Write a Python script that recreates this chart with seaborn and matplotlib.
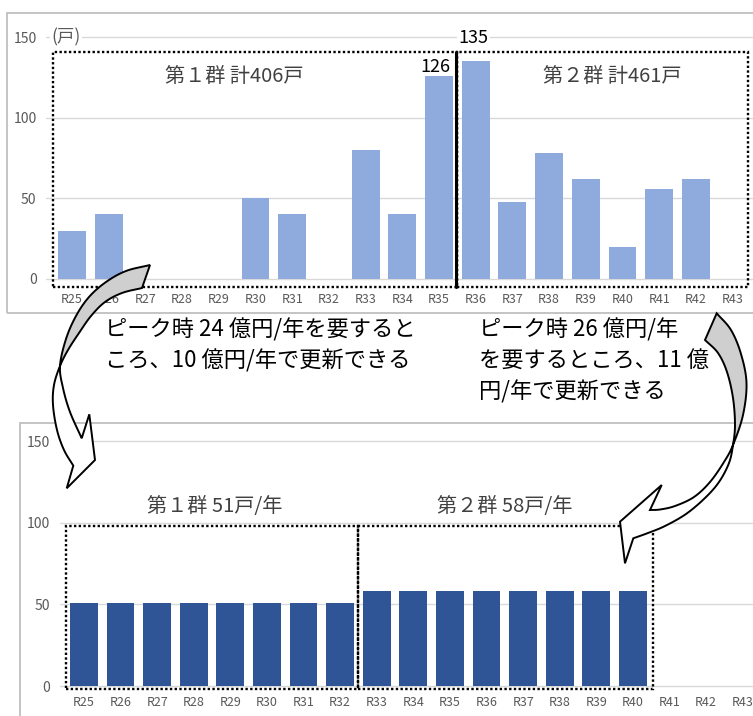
import matplotlib
matplotlib.use("Agg")
import matplotlib.pyplot as plt
from matplotlib.patches import Rectangle, Polygon
import numpy as np
import pandas as pd
import seaborn as sns

# ---------------- data ----------------
years = ["R25", "R26", "R27", "R28", "R29", "R30", "R31", "R32", "R33", "R34",
         "R35", "R36", "R37", "R38", "R39", "R40", "R41", "R42", "R43"]
# dwellings due for renewal each year (戸)
renewal_need = [30, 40, 0, 0, 0, 50, 40, 0, 80, 40,
                126, 135, 48, 78, 62, 20, 56, 62, 0]
group1_idx = (0, 10)    # R25-R35
group2_idx = (11, 18)   # R36-R43
# levelled renewal plan (戸/年)
levelled = [51, 51, 51, 51, 51, 51, 51, 51,
            58, 58, 58, 58, 58, 58, 58, 58, 0, 0, 0]
plan1_idx = (0, 7)      # R25-R32
plan2_idx = (8, 15)     # R33-R40
y_ticks = [0, 50, 100, 150]
note_left = ["ピーク時 24 億円/年を要すると", "ころ、10 億円/年で更新できる"]
note_right = ["ピーク時 26 億円/年", "を要するところ、11 億", "円/年で更新できる"]

LIGHT_BLUE = "#8FAADC"
DARK_BLUE = "#2F5597"
GRID = "#D9D9D9"
TICK = "#595959"
LABEL = "#404040"

sns.set_style("white")
plt.rcParams["font.family"] = ["Noto Sans CJK JP", "DejaVu Sans"]

W, H = 753, 716
fig = plt.figure(figsize=(W / 100, H / 100), dpi=100)


def fx(x):
    return x / W


def fy(y):
    return 1 - y / H


def add_axes_px(left, top, right, bottom):
    return fig.add_axes([fx(left), fy(bottom), fx(right) - fx(left), fy(top) - fy(bottom)])


def style_axes(ax, xlim, ylim, ypad):
    ax.set_xlim(*xlim)
    ax.set_ylim(*ylim)
    ax.set_yticks(y_ticks)
    ax.set_xlabel("")
    ax.set_ylabel("")
    ax.patch.set_alpha(0)
    for s in ax.spines.values():
        s.set_visible(False)
    ax.yaxis.grid(True, color=GRID, lw=1)
    ax.xaxis.grid(False)
    ax.set_axisbelow(True)
    ax.tick_params(axis="x", length=0, pad=1, labelsize=9, labelcolor=TICK)
    ax.tick_params(axis="y", length=0, pad=ypad, labelsize=10, labelcolor=TICK)


def dotted_box(ax, x0, x1, y0, y1):
    ax.add_patch(Rectangle((x0, y0), x1 - x0, y1 - y0, fill=False, ec="black",
                           lw=1.7, ls=(0, (1, 1)), clip_on=False, zorder=5))


# ---------------- outer frames ----------------
fig.add_artist(Rectangle((fx(7), fy(313)), fx(765) - fx(7), fy(13) - fy(313),
                         transform=fig.transFigure, fill=False, ec="#BFBFBF", lw=1.3, zorder=-1))
fig.add_artist(Rectangle((fx(20), fy(740)), fx(765) - fx(20), fy(422.7) - fy(740),
                         transform=fig.transFigure, fill=False, ec="#BFBFBF", lw=1.3, zorder=-1))

# ---------------- top chart: renewal need ----------------
ax1 = add_axes_px(46.3, 32.2, 752.8, 291.9)
df1 = pd.DataFrame({"year": years, "count": renewal_need})
sns.barplot(data=df1, x="year", y="count", order=years, color=LIGHT_BLUE,
            saturation=1, width=0.76, linewidth=0, ax=ax1)
style_axes(ax1, (-0.7, 18.55), (-8, 153), ypad=7)

g1_lo, g1_hi = group1_idx
g2_lo, g2_hi = group2_idx
split = (g1_hi + g2_lo) / 2
dotted_box(ax1, g1_lo - 0.52, split, -4.8, 140.5)
dotted_box(ax1, split, g2_hi + 0.42, -4.8, 140.5)
ax1.plot([split - 0.04, split - 0.04], [-4.8, 140.5], color="black", lw=2.2, zorder=6,
         clip_on=False)

ax1.text(-0.16, 150, "(戸)", ha="center", va="center", fontsize=12.5, color=TICK,
         bbox=dict(fc="white", ec="none", pad=1))
peak1 = renewal_need[g1_hi]
peak2 = renewal_need[g2_lo]
ax1.text(split - 0.2, peak1 + 5.5, f"{peak1}", ha="right", va="center", fontsize=13,
         color="black")
ax1.text(split + 0.02, 149.5, f"{peak2}", ha="left", va="center", fontsize=13,
         color="black", bbox=dict(fc="white", ec="none", pad=1))
total1 = sum(renewal_need[g1_lo:g1_hi + 1])
total2 = sum(renewal_need[g2_lo:g2_hi + 1])
ax1.text(4.41, 125.4, f"第１群 計{total1}戸", ha="center", va="center", fontsize=14.5,
         color=LABEL)
ax1.text(14.73, 125.4, f"第２群 計{total2}戸", ha="center", va="center", fontsize=14.5,
         color=LABEL)

# ---------------- bottom chart: levelled plan ----------------
ax2 = add_axes_px(59.8, 425.0, 753.0, 694.2)
df2 = pd.DataFrame({"year": years, "count": levelled})
sns.barplot(data=df2, x="year", y="count", order=years, color=DARK_BLUE,
            saturation=1, width=0.76, linewidth=0, ax=ax2)
style_axes(ax2, (-0.66, 18.28), (-5, 160), ypad=7)

p1_lo, p1_hi = plan1_idx
p2_lo, p2_hi = plan2_idx
mid = (p1_hi + p2_lo) / 2
dotted_box(ax2, p1_lo - 0.5, mid, -2, 98)
dotted_box(ax2, mid, p2_hi + 0.55, -2, 98)
ax2.text(3.58, 110, f"第１群 {levelled[p1_lo]}戸/年", ha="center", va="center",
         fontsize=14.5, color=LABEL)
ax2.text(11.5, 110, f"第２群 {levelled[p2_lo]}戸/年", ha="center", va="center",
         fontsize=14.5, color=LABEL)

# ---------------- explanatory notes ----------------
for i, line in enumerate(note_left):
    fig.text(fx(105), fy(330 + 31 * i), line, ha="left", va="center", fontsize=16,
             color="black")
for i, line in enumerate(note_right):
    fig.text(fx(479), fy(330 + 31 * i), line, ha="left", va="center", fontsize=16,
             color="black")


# ---------------- curved block arrows ----------------
def smooth(points, n=12):
    pts = np.asarray(points, float)
    ext = np.vstack([2 * pts[0] - pts[1], pts, 2 * pts[-1] - pts[-2]])
    out = []
    for i in range(1, len(ext) - 2):
        p0, p1, p2, p3 = ext[i - 1], ext[i], ext[i + 1], ext[i + 2]
        for t in np.linspace(0, 1, n, endpoint=False):
            out.append(0.5 * ((2 * p1) + (-p0 + p2) * t
                              + (2 * p0 - 5 * p1 + 4 * p2 - p3) * t * t
                              + (-p0 + 3 * p1 - 3 * p2 + p3) * t ** 3))
    out.append(pts[-1])
    return np.array(out)


def to_fig(arr):
    arr = np.asarray(arr, float)
    return np.column_stack([arr[:, 0] / W, 1 - arr[:, 1] / H])


def curved_arrow(edge_a, edge_b, twist, head, n=12):
    a = smooth(edge_a, n)
    b = smooth(edge_b, n)
    s = twist * n
    back = np.vstack([a[:s + 1], b[:s + 1][::-1]])
    front = np.vstack([a[s:], np.asarray(head, float), b[s:][::-1]])
    fig.add_artist(Polygon(to_fig(back), closed=True, transform=fig.transFigure,
                           fc="#CFCFCF", ec="black", lw=1.4, zorder=10))
    fig.add_artist(Polygon(to_fig(front), closed=True, transform=fig.transFigure,
                           fc="white", ec="black", lw=1.4, zorder=10))


curved_arrow(
    [(150, 265), (126, 271), (106, 282), (89, 297), (76, 316), (66, 339), (60, 366),
     (63, 388), (70, 412), (81.7, 438.3)],
    [(142, 288), (122, 293), (105, 302), (91, 316), (79, 333), (68, 350), (60, 366),
     (54, 385), (53, 405), (57, 430), (64, 450), (73.3, 465.7)],
    6,
    [(89.3, 414.3), (95, 460), (66.7, 488.3)],
)
curved_arrow(
    [(716.7, 313.3), (731, 330), (741, 354), (746.5, 383), (743, 415), (733, 445),
     (724, 462), (710, 482), (694, 497), (675, 506), (660, 509.5), (650, 510)],
    [(705, 340), (718, 353), (727, 372), (733, 398), (735, 425), (733, 445),
     (729, 463), (719, 482), (705, 498), (686, 514), (665, 526), (648, 533), (633.3, 538.3)],
    5,
    [(661.7, 485), (620, 521.7), (625, 563.3)],
)

fig.savefig("out.png", dpi=100)
